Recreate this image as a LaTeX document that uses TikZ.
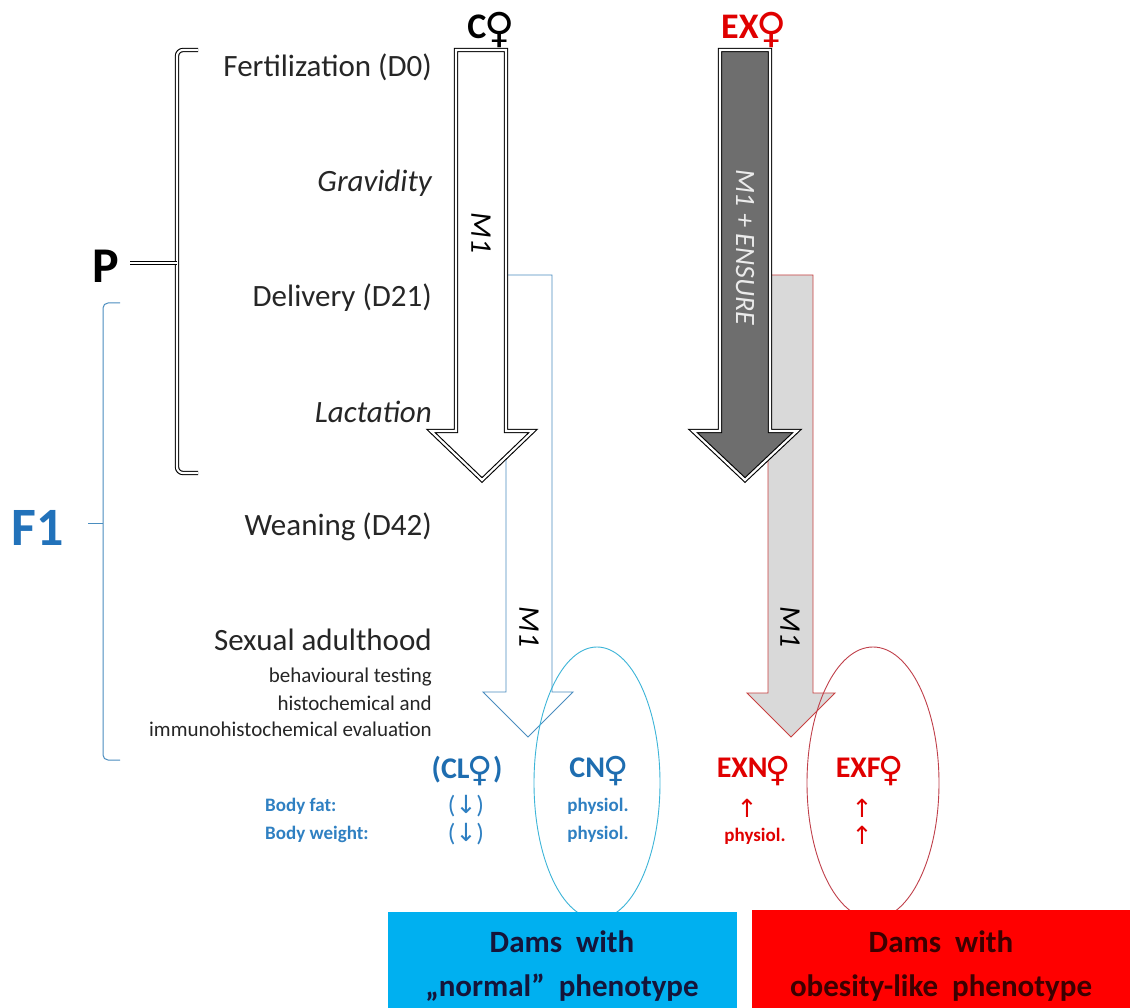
\documentclass[tikz,border=0pt]{standalone}
\usepackage{fontspec}
\setmainfont{Carlito}
\newfontfamily\symfont{DejaVu Sans}
\usetikzlibrary{shapes.geometric}
\definecolor{tlc}{HTML}{262626}
\definecolor{fblue}{HTML}{2272BA}
\definecolor{lblue}{HTML}{1E6DB0}
\definecolor{sblue}{HTML}{2F80C2}
\definecolor{arrblue}{HTML}{4A8DBF}
\definecolor{ellblue}{HTML}{3DB5D8}
\definecolor{ered}{HTML}{E00000}
\definecolor{arrred}{HTML}{C84040}
\definecolor{ellred}{HTML}{C0404A}
\definecolor{boxblue}{HTML}{00B0F0}
\definecolor{boxred}{HTML}{FF0000}
\definecolor{bbtext}{HTML}{15153A}
\definecolor{rbtext}{HTML}{3C0000}
\definecolor{exgray}{HTML}{6E6E6E}
\definecolor{lgray}{HTML}{D9D9D9}
\newcommand{\femsym}{\kern-0.06em\raisebox{-0.12em}{\scalebox{1.15}{\symfont\mdseries\char"2640}}}
\newcommand{\dnarr}{{\symfont\mdseries\char"2193}}
\newcommand{\uparr}{{\symfont\mdseries\char"2191}}
\begin{document}
\begin{tikzpicture}[x=1pt,y=-1pt,
  lbl/.style={inner sep=0pt, anchor=east, text=tlc, font=\fontsize{31}{36}\selectfont},
  sublbl/.style={inner sep=0pt, anchor=east, text=tlc, font=\fontsize{21}{24}\selectfont},
  dblline/.style={draw=black, line width=1.1pt, double=white, double distance=2.2pt, line join=miter},
  thinblue/.style={draw=arrblue, line width=0.9pt, fill=white},
  thinred/.style={draw=arrred, line width=0.9pt, fill=lgray},
  rotlbl/.style={rotate=-90, inner sep=0pt, font=\itshape\fontsize{30}{30}\selectfont},
  grp/.style={inner sep=0pt, font=\bfseries\fontsize{30}{34}\selectfont},
  small/.style={inner sep=0pt, font=\bfseries\fontsize{19}{21}\selectfont},
  arrsym/.style={inner sep=0pt, font=\fontsize{25}{27}\selectfont},
  boxtxt/.style={align=center, inner sep=0pt, font=\bfseries\fontsize{31}{44}\selectfont}
]
\useasboundingbox (0,0) rectangle (1130,1008);
\fill[white] (0,0) rectangle (1130,1008);

% thin outline arrows (behind)
\path[thinblue] (506,275) -- (552,275) -- (552,692) -- (573,692) -- (528,737) -- (483,692) -- (506,692) -- cycle;
\path[thinred] (768,275) -- (813,275) -- (813,693) -- (835,693) -- (791,737) -- (747,693) -- (768,693) -- cycle;

% main arrows
\path[dblline, fill=white] (456,50) -- (506,50) -- (506,431) -- (533,431) -- (482,480) -- (431,431) -- (456,431) -- cycle;
\path[dblline, fill=exgray] (720,50) -- (770,50) -- (770,431) -- (797,431) -- (745,480) -- (693,431) -- (720,431) -- cycle;

% arrow labels
\node[rotlbl, text=black] (m1c) at (481,233) {M1};
\node[rotlbl, text=white!92!black, font=\itshape\fontsize{28}{28}\selectfont] (m1ex) at (745,247) {M1 + ENSURE};
\node[rotlbl, text=black] (m1cl) at (529,627) {M1};
\node[rotlbl, text=black] (m1ex2) at (790,627) {M1};

% group headers
\node[inner sep=0pt, font=\bfseries\fontsize{36}{36}\selectfont, text=black] (C) at (491,30) {C\femsym};
\node[inner sep=0pt, font=\bfseries\fontsize{36}{36}\selectfont, text=ered] (EX) at (754,30) {EX\femsym};

% P bracket
\draw[dblline, rounded corners=6pt] (198,50) -- (177,50) -- (177,473) -- (198,473);
\coordinate (ptip) at (177,263);
\node[inner sep=0pt, font=\bfseries\fontsize{50}{50}\selectfont, text=black] (P) at (106,266) {P};
\draw[dblline, line width=0.9pt, double distance=1.6pt] (130,263) -- (ptip);

% F1 bracket
\draw[draw=arrblue, line width=1pt, rounded corners=5pt] (120,303) -- (103,303) -- (103,760) -- (120,760);
\coordinate (ftip) at (103,523);
\node[inner sep=0pt, font=\bfseries\fontsize{54}{54}\selectfont, text=fblue] (F1) at (38,528) {F1};
\draw[draw=arrblue, line width=1pt] (88,523) -- (ftip);

% timeline
\node[lbl] (t1) at (432,67) {Fertilization (D0)};
\node[lbl, font=\itshape\fontsize{31}{36}\selectfont] (t2) at (432,183) {Gravidity};
\node[lbl] (t3) at (432,298) {Delivery (D21)};
\node[lbl, font=\itshape\fontsize{31}{36}\selectfont] (t4) at (432,412) {Lactation};
\node[lbl] (t5) at (432,527) {Weaning (D42)};
\node[lbl] (t6) at (432,640) {Sexual adulthood};
\node[sublbl] (t7) at (432,677) {behavioural testing};
\node[sublbl] (t8) at (432,703) {histochemical and};
\node[sublbl] (t9) at (432,729) {immunohistochemical evaluation};

% ellipses
\node[ellipse, draw=ellblue, line width=0.9pt, minimum width=126pt, minimum height=272pt, inner sep=0pt] (ellCN) at (597,783) {};
\node[ellipse, draw=ellred, line width=0.9pt, minimum width=132pt, minimum height=272pt, inner sep=0pt] (ellEXF) at (873,783) {};

% group labels
\node[grp, text=lblue] (CL) at (467,771) {(CL\femsym)};
\node[grp, text=lblue] (CN) at (599,771) {CN\femsym};
\node[grp, text=ered] (EXN) at (754,771) {EXN\femsym};
\node[grp, text=ered] (EXF) at (870,771) {EXF\femsym};

\node[small, text=sblue, anchor=west] (bf) at (265,806) {Body fat:};
\node[small, text=sblue, anchor=west] (bw) at (265,834) {Body weight:};
\node[arrsym, text=sblue] (clbf) at (466,806) {(\dnarr)};
\node[arrsym, text=sblue] (clbw) at (466,834) {(\dnarr)};
\node[small, text=sblue] (cnbf) at (598,806) {physiol.};
\node[small, text=sblue] (cnbw) at (598,834) {physiol.};
\node[arrsym, text=ered] (exnbf) at (747,808) {\uparr};
\node[small, text=ered] (exnbw) at (755,836) {physiol.};
\node[arrsym, text=ered] (exfbf) at (862,808) {\uparr};
\node[arrsym, text=ered] (exfbw) at (862,835) {\uparr};

% bottom boxes
\fill[boxblue] (388,912) rectangle (737,1008);
\fill[boxred] (752,910) rectangle (1130,1008);
\node[boxtxt, text=bbtext] (bnorm) at (562,966) {Dams\ \ with\\„normal"\ \ phenotype};
\node[boxtxt, text=rbtext] (bobese) at (941,966) {Dams\ \ with\\obesity-like\ \ phenotype};
\end{tikzpicture}
\end{document}
